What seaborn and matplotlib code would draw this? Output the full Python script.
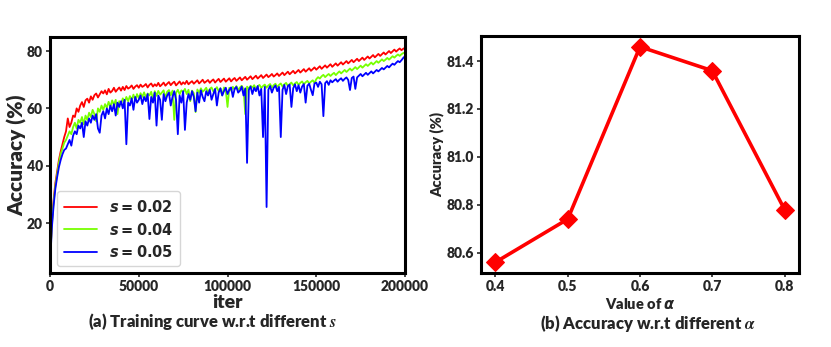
import numpy as np
import pandas as pd
import matplotlib
matplotlib.use("Agg")
import matplotlib.pyplot as plt
import seaborn as sns

# ---------------- data ----------------
iters = list(range(0, 200001, 1000))

acc_s002 = [
    6, 20, 28, 34, 38, 42, 45, 47.5, 50, 52,
    56.5, 53.5, 55, 57.5, 57, 60, 58.8, 61, 62.2, 60.5,
    62.8, 63.4, 62, 64.2, 63, 64.6, 65.2, 63.8, 64.9, 66,
    65.2, 66.3, 64.9, 66.8, 65.5, 66.1, 67.2, 65.8, 66.6, 67.3,
    66.2, 67.5, 66.4, 67.8, 66.9, 67.3, 68, 66.8, 67.6, 68.1,
    67.2, 68.3, 67.5, 67.9, 68.5, 67.3, 68.2, 68.7, 67.6, 68.4,
    67.8, 68.9, 67.7, 68.3, 69, 67.9, 68.6, 69.2, 68.1, 68.8,
    69.3, 68, 68.7, 69.4, 68.3, 69.1, 68.5, 69.6, 68.4, 69,
    69.5, 68.6, 69.2, 69.8, 68.7, 69.3, 70, 68.9, 69.4, 69.9,
    68.9, 69.6, 70.1, 69, 69.7, 70.3, 69.2, 69.8, 70.4, 69.3,
    69.9, 70.5, 69.4, 70.1, 70.6, 69.6, 70.2, 70.8, 69.8, 70.4,
    71, 70, 70.6, 71.2, 70.2, 70.8, 71.4, 70.4, 71, 71.6,
    70.6, 71.2, 71.8, 70.9, 71.4, 72, 71.1, 71.6, 72.2, 71.3,
    71.9, 72.5, 71.6, 72.2, 72.8, 71.9, 72.5, 73.1, 72.2, 72.8,
    73.4, 72.5, 73.1, 73.7, 72.8, 73.4, 74, 73.1, 73.7, 74.3,
    73.5, 74.1, 74.7, 73.8, 74.4, 75, 74.2, 74.8, 75.4, 74.5,
    75.1, 75.7, 74.9, 75.5, 76.1, 75.3, 75.9, 76.5, 75.7, 76.3,
    76.9, 76.1, 76.7, 77.3, 76.5, 77.1, 77.7, 76.9, 77.5, 78.1,
    77.4, 78, 78.6, 77.8, 78.4, 79, 78.3, 78.9, 79.5, 78.8,
    79.4, 80, 79.3, 79.9, 80.5, 79.8, 80.4, 80.9, 80.3, 80.8,
    81.1]

acc_s004 = [
    6.5, 19, 27, 33, 37, 41, 44, 46, 48, 49,
    50.5, 52, 51, 53.5, 55, 53, 56, 55, 57, 54.5,
    57.5, 56, 58.5, 57, 59.5, 58, 55.5, 60, 58.8, 61,
    59.5, 61.5, 60.2, 62.3, 60.5, 62.8, 61.2, 63, 58, 62.5,
    61.5, 63.5, 62.2, 64, 62.5, 64.3, 63, 64.8, 62.8, 65,
    63.5, 65.3, 64, 65.6, 63.8, 65.2, 64.5, 65.8, 63.2, 66,
    64.4, 66.1, 64.8, 65.5, 66.3, 63.5, 65.8, 66.4, 64.6, 66.2,
    56, 65.4, 66.5, 64.9, 66.3, 65.7, 66.8, 65, 66.5, 62.5,
    66.2, 65.3, 58.7, 66.6, 65.4, 67, 65.8, 66.4, 67.2, 65.5,
    66.8, 67.3, 65.9, 66.6, 67.4, 66, 67, 64.5, 67.3, 66.4,
    60.5, 67.2, 66.2, 67.5, 66.6, 67.8, 66.4, 67.3, 67.9, 66.8,
    58, 67.6, 66.9, 67.9, 67.2, 68.1, 66.8, 67.7, 68.2, 67.1,
    67.8, 68.3, 67.2, 68, 68.5, 67.3, 68.1, 68.6, 67.5, 68.2,
    68.7, 67.6, 68.4, 68.9, 67.8, 68.5, 69, 68, 68.7, 69.2,
    68.2, 68.9, 69.4, 68.4, 69.1, 69.6, 68.7, 69.3, 69.8, 68.9,
    70.2, 70.9, 70.4, 71.2, 71.7, 70.9, 71.5, 72, 71.3, 71.9,
    72.4, 71.6, 72.3, 72.9, 72.2, 72.8, 73.4, 72.7, 73.3, 73.9,
    73.2, 73.8, 74.4, 73.7, 74.3, 74.9, 74.2, 74.8, 75.4, 74.8,
    75.4, 76, 75.3, 75.9, 76.5, 75.9, 76.5, 77.1, 76.5, 77,
    77.6, 77, 77.6, 78.2, 77.7, 78.3, 78.8, 78.3, 78.9, 79.3,
    79.4]

acc_s005 = [
    5, 18, 26, 32, 36, 39.5, 42, 44, 45.5, 46,
    47.5, 49, 47, 50.5, 52, 51, 54, 53, 55, 50,
    55.5, 54, 56.5, 55, 57.5, 56, 58, 53, 51.5, 57.5,
    59, 56.5, 60, 58, 61, 59, 61.5, 57.5, 62, 60.5,
    62.5, 60, 63, 47.5, 62, 61, 63.5, 59.5, 64, 62,
    63, 64.5, 61.5, 64, 62.5, 65, 56.3, 64, 62, 65.5,
    54, 64.5, 63, 56, 65, 62.5, 64.5, 65.5, 61, 64,
    66, 63, 51, 64.5, 62, 66, 52.5, 62, 65, 63,
    66, 64, 59, 65.5, 62, 66.3, 64, 62.5, 66, 64.5,
    66.5, 63, 65, 66.8, 61, 65.5, 67, 64.5, 66, 67.2,
    65, 66.5, 67.3, 64, 66.8, 67.5, 65.5, 66.2, 67.6, 64.5,
    67, 41, 66.5, 67.6, 65, 67.2, 66, 67.8, 64.5, 66.8,
    50, 67.5, 25.6, 66.5, 67.8, 65.5, 67.2, 68, 66, 67.5,
    50, 66.5, 68.2, 65, 67.8, 68.3, 60.5, 67, 68.4, 66,
    68.1, 65.5, 67.6, 68.5, 62, 67.9, 68.6, 66.5, 64.6, 68.7,
    69, 67.5, 69.3, 68.4, 57.3, 68.8, 69.5, 68.2, 69.8, 69.1,
    69.7, 70.2, 69.3, 70, 70.5, 69.6, 70.3, 70.8, 69.9, 66.4,
    70.6, 71.1, 66.8, 70.8, 71.4, 72, 71.2, 71.8, 72.4, 71.7,
    72.3, 72.9, 72.2, 72.8, 73.4, 72.9, 73.5, 74.1, 73.6, 74.2,
    74.8, 74.3, 75, 75.6, 75.2, 75.9, 76.5, 76.1, 76.8, 77.6,
    78.2]

series_labels = [r'$s=0.02$', r'$s=0.04$', r'$s=0.05$']
series_colors = ['#ff0000', '#77ff00', '#0000ff']

alpha_vals = [0.4, 0.5, 0.6, 0.7, 0.8]
alpha_acc = [80.56, 80.74, 81.46, 81.36, 80.78]

# ---------------- style ----------------
sns.set_style("ticks")
plt.rcParams['font.family'] = ['Lato', 'DejaVu Sans']
plt.rcParams['font.weight'] = 'heavy'
plt.rcParams['axes.labelweight'] = 'heavy'
plt.rcParams['mathtext.fontset'] = 'custom'
plt.rcParams['mathtext.rm'] = 'DejaVu Sans:bold'
plt.rcParams['mathtext.bf'] = 'DejaVu Sans:bold'
plt.rcParams['mathtext.it'] = 'DejaVu Sans:bold:italic'

fig = plt.figure(figsize=(8.31, 3.47), dpi=100)
ax1 = fig.add_axes([0.0602, 0.2133, 0.4272, 0.6801])
ax2 = fig.add_axes([0.5788, 0.2133, 0.3827, 0.6830])

# ---------------- left: training curves ----------------
df = pd.concat([
    pd.DataFrame({'iter': iters, 'acc': a, 'series': lab})
    for a, lab in zip([acc_s002, acc_s004, acc_s005], series_labels)
], ignore_index=True)

sns.lineplot(data=df, x='iter', y='acc', hue='series', hue_order=series_labels,
             palette=series_colors, estimator=None, linewidth=1.3, ax=ax1)
ax1.set_xlim(0, 200000)
ax1.set_ylim(2.6, 84.9)
ax1.set_xticks([0, 50000, 100000, 150000, 200000])
ax1.set_yticks([20, 40, 60, 80])
ax1.set_xlabel('iter', fontsize=14, fontweight='heavy', labelpad=1)
ax1.set_ylabel('Accuracy (%)', fontsize=15, fontweight='heavy', labelpad=0)
ax1.tick_params(labelsize=10, length=3, width=1.2, pad=2)
for sp in ax1.spines.values():
    sp.set_visible(True)
    sp.set_linewidth(2.2)
    sp.set_color('black')
leg = ax1.legend(loc='lower left', fontsize=10.5, frameon=True, fancybox=True,
                 handlelength=2.3, handletextpad=0.8, borderpad=0.45,
                 labelspacing=0.45)
leg.get_frame().set_edgecolor('#cccccc')
for ln in leg.get_lines():
    ln.set_linewidth(1.3)
for t in ax1.get_xticklabels() + ax1.get_yticklabels():
    t.set_fontweight('heavy')

# ---------------- right: alpha ----------------
dfa = pd.DataFrame({'alpha': alpha_vals, 'acc': alpha_acc})
sns.lineplot(data=dfa, x='alpha', y='acc', color='#ff0000', linewidth=2.6,
             marker='D', markersize=9.5, markeredgecolor='#ff0000', ax=ax2)
ax2.set_xticks(alpha_vals)
ax2.set_xticklabels([f'{v:.1f}' for v in alpha_vals])
ax2.set_yticks([80.6, 80.8, 81.0, 81.2, 81.4])
ax2.set_yticklabels([f'{v:.1f}' for v in [80.6, 80.8, 81.0, 81.2, 81.4]])
ax2.set_ylim(80.515, 81.505)
ax2.set_xlim(0.38, 0.82)
ax2.set_xlabel(r'Value of $\alpha$', fontsize=10.5, fontweight='heavy', labelpad=2)
ax2.set_ylabel('Accuracy (%)', fontsize=10.5, fontweight='heavy', labelpad=2)
ax2.tick_params(labelsize=10, length=3, width=1.2, pad=2)
for sp in ax2.spines.values():
    sp.set_visible(True)
    sp.set_linewidth(2.2)
    sp.set_color('black')
for t in ax2.get_xticklabels() + ax2.get_yticklabels():
    t.set_fontweight('heavy')

# ---------------- captions ----------------
fig.text(212 / 831, 1 - 322 / 347, r'(a) Training curve w.r.t different $s$',
         ha='center', va='center', fontsize=12, fontweight='heavy',
         math_fontfamily='stix')
fig.text(648 / 831, 1 - 323 / 347, r'(b) Accuracy w.r.t different $\alpha$',
         ha='center', va='center', fontsize=12, fontweight='heavy',
         math_fontfamily='stix')

fig.savefig('out.png', dpi=100)
